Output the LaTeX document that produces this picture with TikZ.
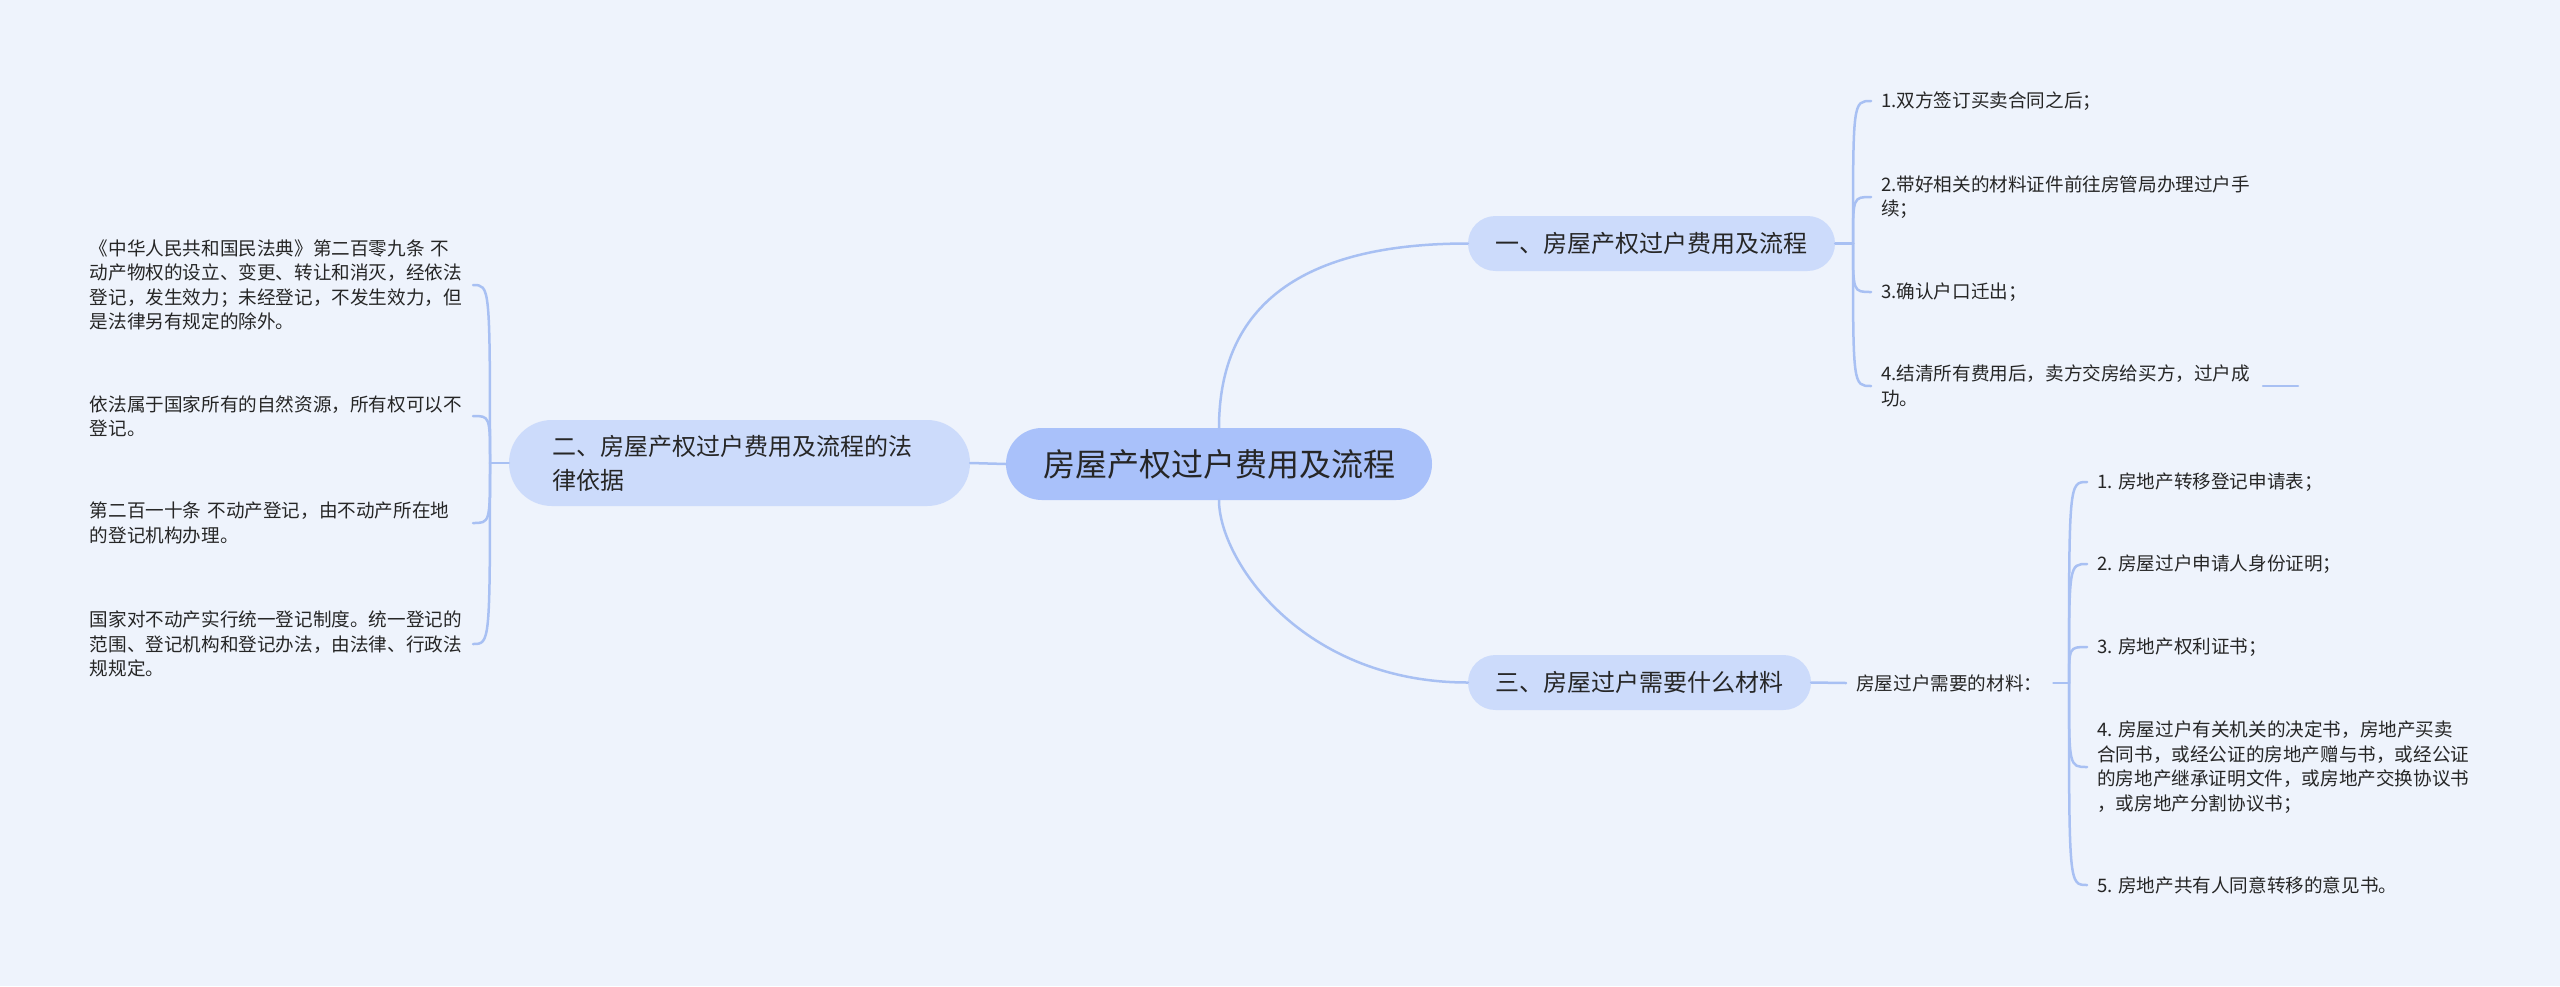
\documentclass[tikz,border=0pt]{standalone}
\usepackage{fontspec}
\setmainfont{Noto Sans CJK SC}
\definecolor{bg}{HTML}{EEF3FC}
\definecolor{cmain}{HTML}{A9C1FA}
\definecolor{cbr}{HTML}{CCDBFB}
\definecolor{cline}{HTML}{A8C0F3}
\definecolor{txt}{HTML}{262626}
\begin{document}
\begin{tikzpicture}[x=1pt,y=-1pt,
  every node/.style={text=txt},
  central/.style={fill=cmain, rounded corners=35.9pt, minimum width=426pt, minimum height=72pt, inner sep=0pt, font=\fontsize{32}{38}\selectfont},
  branch/.style={fill=cbr, rounded corners=27.4pt, minimum height=55pt, inner xsep=27pt, inner ysep=0pt, font=\fontsize{24}{30}\selectfont},
  leaf/.style={inner xsep=10pt, inner ysep=0pt, align=left, font=\fontsize{18.6}{24.5}\selectfont},
  conn/.style={draw=cline, line width=2.5pt, line cap=round},
]
\fill[bg] (0,0) rectangle (2560,986);
\useasboundingbox (0,0) rectangle (2560,986);

% main nodes
\node[central] (c) at (1219,464) {房屋产权过户费用及流程};
\node[branch, minimum width=367pt] (b1) at (1651.5,243.5) {一、房屋产权过户费用及流程};
\node[branch, rounded corners=42.9pt, minimum height=86pt, inner xsep=43pt, text width=375pt, align=left, font=\fontsize{24}{34}\selectfont] (b2) at (739.5,463) {二、房屋产权过户费用及流程的法\\律依据};
\node[branch, minimum width=343pt] (b3) at (1639.5,682.5) {三、房屋过户需要什么材料};
\node[leaf, anchor=west, text width=187pt] (m) at (1846,683) {房屋过户需要的材料：};

% junctions
\coordinate (j1) at (1853,243.5);
\coordinate (j2) at (490,463);
\coordinate (j3) at (2069,683);

% group 1 leaves
\node[leaf, anchor=west] (a1) at (1871,101) {1.双方签订买卖合同之后；};
\node[leaf, anchor=west] (a2) at (1871,197) {2.带好相关的材料证件前往房管局办理过户手\\续；};
\node[leaf, anchor=west] (a3) at (1871,292) {3.确认户口迁出；};
\node[leaf, anchor=west] (a4) at (1871,386) {4.结清所有费用后，卖方交房给买方，过户成\\功。};

% group 2 leaves
\node[leaf, anchor=east, text width=373pt] (e1) at (473,285) {《中华人民共和国民法典》第二百零九条~不\\动产物权的设立、变更、转让和消灭，经依法\\登记，发生效力；未经登记，不发生效力，但\\是法律另有规定的除外。};
\node[leaf, anchor=east, text width=373pt] (e2) at (473,416) {依法属于国家所有的自然资源，所有权可以不\\登记。};
\node[leaf, anchor=east, text width=373pt] (e3) at (473,523) {第二百一十条~不动产登记，由不动产所在地\\的登记机构办理。};
\node[leaf, anchor=east, text width=373pt] (e4) at (473,644) {国家对不动产实行统一登记制度。统一登记的\\范围、登记机构和登记办法，由法律、行政法\\规规定。};

% group 3 leaves
\node[leaf, anchor=west] (d1) at (2087,482) {1. 房地产转移登记申请表；};
\node[leaf, anchor=west] (d2) at (2087,564) {2. 房屋过户申请人身份证明；};
\node[leaf, anchor=west] (d3) at (2087,647) {3. 房地产权利证书；};
\node[leaf, anchor=west] (d4) at (2087,767) {4. 房屋过户有关机关的决定书，房地产买卖\\合同书，或经公证的房地产赠与书，或经公证\\的房地产继承证明文件，或房地产交换协议书\\，或房地产分割协议书；};
\node[leaf, anchor=west] (d5) at (2087,885) {5. 房地产共有人同意转移的意见书。};

% stub
\coordinate (s1) at (2263,386);
\coordinate (s2) at (2298,386);

% connectors
\draw[conn] (c.north) .. controls (1219,305) and (1302,243.5) .. (b1.west);
\draw[conn] (c.south) .. controls (1219,560) and (1302,682.5) .. (b3.west);
\draw[conn] (c.west) -- (b2.east);
\draw[conn] (b1.east) -- (j1);
\draw[conn] (b2.west) -- (j2);
\draw[conn] (b3.east) -- (m.west);
\draw[conn] (m.east) -- (j3);
\foreach \n in {a1,a2,a3,a4} \draw[conn] (j1) .. controls (j1 |- \n.west) .. (\n.west);
\foreach \n in {e1,e2,e3,e4} \draw[conn] (j2) .. controls (j2 |- \n.east) .. (\n.east);
\foreach \n in {d1,d2,d3,d4,d5} \draw[conn] (j3) .. controls (j3 |- \n.west) .. (\n.west);
\draw[conn] (s1) -- (s2);
\end{tikzpicture}
\end{document}
